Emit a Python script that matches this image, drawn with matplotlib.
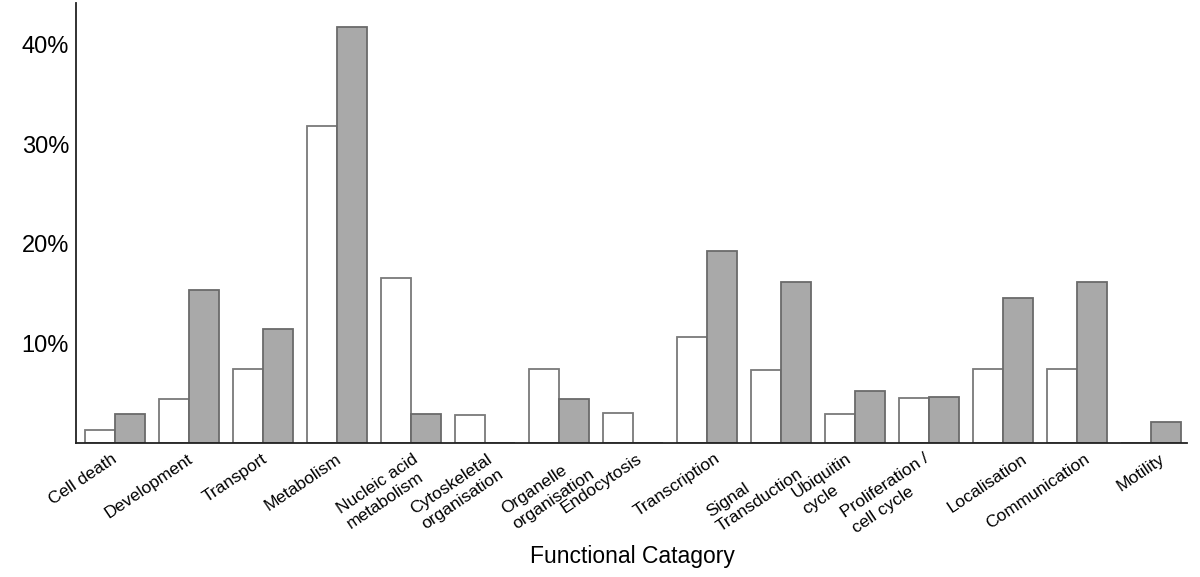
import numpy as np
import matplotlib
matplotlib.use("Agg")
import matplotlib.pyplot as plt
import matplotlib.transforms as mtransforms

plt.rcParams['font.family'] = ['Liberation Sans', 'DejaVu Sans']

categories = ["Cell death", "Development", "Transport", "Metabolism",
              "Nucleic acid\nmetabolism", "Cytoskeletal\norganisation",
              "Organelle\norganisation", "Endocytosis", "Transcription",
              "Signal\nTransduction", "Ubiquitin\ncycle",
              "Proliferation /\ncell cycle", "Localisation", "Communication",
              "Motility"]
white_values = [1.3, 4.4, 7.4, 31.8, 16.6, 2.8, 7.4, 3.0, 10.6, 7.3, 2.9, 4.5, 7.4, 7.4, 0.0]
grey_values = [2.9, 15.4, 11.5, 41.8, 2.9, 0.0, 4.4, 0.0, 19.3, 16.2, 5.2, 4.6, 14.6, 16.2, 2.1]
y_ticks = [10, 20, 30, 40]
y_tick_labels = ["10%", "20%", "30%", "40%"]
x_title = "Functional Catagory"

# label nudges (pixels) for the rotated category labels
label_dx_px = [5, 7, 7, 7, 20, 21, 38, 12, 16, 25, 10, 14, 27, 16, 17]

fig = plt.figure(figsize=(12, 5.77), dpi=100)
ax = fig.add_axes([0.0633, 0.2322, 0.989 - 0.0633, 0.9948 - 0.2322])

x = np.arange(len(categories))
w = 0.405
ax.bar(x - w / 2, white_values, w, facecolor="white", edgecolor="#7a7a7a", linewidth=1.3, zorder=2)
ax.bar(x + w / 2, grey_values, w, facecolor="#a9a9a9", edgecolor="#6a6a6a", linewidth=1.3, zorder=3)

ax.set_xlim(-0.527, 14.49)
ax.set_ylim(0, 44.2)

for s in ["top", "right"]:
    ax.spines[s].set_visible(False)
for s in ["left", "bottom"]:
    ax.spines[s].set_color("#222222")
    ax.spines[s].set_linewidth(1.3)
    ax.spines[s].set_zorder(4)

ax.set_yticks(y_ticks)
ax.set_yticklabels(y_tick_labels, fontsize=17)
ax.tick_params(axis="y", length=0, pad=5)
ax.set_xticks([])

blend = mtransforms.blended_transform_factory(ax.transData, ax.transAxes)
for xi, lab, dx in zip(x, categories, label_dx_px):
    tr = mtransforms.offset_copy(blend, fig=fig, x=dx, y=-8, units="dots")
    ax.text(xi, 0, lab, transform=tr, rotation=34, ha="right", va="top",
            multialignment="left", fontsize=12.5, linespacing=1.3)

fig.text(632 / 1200, 1 - 557 / 577, x_title, ha="center", va="center", fontsize=16.5)

fig.savefig("out.png", dpi=100, facecolor="white")
